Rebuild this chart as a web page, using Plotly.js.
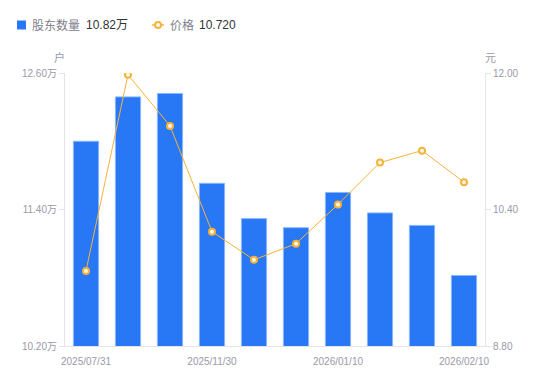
<!DOCTYPE html>
<html>
<head>
<meta charset="utf-8">
<script src="https://cdn.plot.ly/plotly-3.0.1.min.js"></script>
<style>html,body{margin:0;padding:0;background:#fff}#chart{width:550px;height:381px}</style>
</head>
<body>
<div id="chart"></div>
<script>
const dates = ['2025/07/31','2025/09/30','2025/10/31','2025/11/30','2025/12/10','2025/12/31','2026/01/10','2026/01/20','2026/01/31','2026/02/10'];
const holders = [12.00, 12.39, 12.42, 11.63, 11.32, 11.24, 11.55, 11.37, 11.26, 10.82]; // 万户
const price = [9.68, 11.98, 11.38, 10.14, 9.81, 10.00, 10.46, 10.95, 11.09, 10.72]; // 元
const shownTicks = ['2025/07/31','2025/11/30','2026/01/10','2026/02/10'];
const leftTicks = [10.20, 11.40, 12.60];
const rightTicks = [8.80, 10.40, 12.00];

const W = 550, H = 381, M = {l: 65, r: 65, t: 73, b: 35};
const PW = W - M.l - M.r, PH = H - M.t - M.b;
const px = v => (v - M.l) / PW;      // pixel x -> paper
const py = v => (H - M.b - v) / PH;  // pixel y -> paper

const gray = '#9a9aa8';
const nameGray = '#80808e';
const blue = '#2878F5';
const orange = '#F7B23B';
const lastH = holders[holders.length-1].toFixed(2) + '万';
const lastP = price[price.length-1].toFixed(3);
const FONT = 'Liberation Sans, Arial, Noto Sans CJK SC, sans-serif';

const traces = [
  {
    type: 'bar', x: dates, y: holders, name: '股东数量',
    marker: {color: blue, line: {color: '#8ab6fb', width: 1}},
    width: 0.6
  },
  {
    type: 'scatter', mode: 'lines+markers', x: dates, y: price, yaxis: 'y2', name: '价格',
    line: {color: orange, width: 1},
    marker: {size: 6, color: '#fff8e8', line: {color: orange, width: 2}}
  }
];

const legendY = py(25);
const layout = {
  width: W, height: H,
  margin: Object.assign({autoexpand: false}, M),
  paper_bgcolor: '#fff', plot_bgcolor: '#fff',
  font: {family: FONT, size: 10, color: gray},
  showlegend: false,
  xaxis: {
    type: 'category', range: [-0.5, dates.length - 0.5], tickmode: 'array', tickvals: shownTicks, ticktext: shownTicks,
    showgrid: false, showline: true, linecolor: '#e3e3e8', linewidth: 1,
    ticks: '', ticklabelstandoff: 6, tickfont: {size: 10, color: gray}, automargin: false
  },
  yaxis: {
    range: [leftTicks[0], leftTicks[leftTicks.length-1]], tickmode: 'array', tickvals: leftTicks,
    ticktext: leftTicks.map(v => v.toFixed(2) + '万'),
    showgrid: false, zeroline: false, showline: true, linecolor: '#e3e3e8',
    ticks: 'outside', ticklen: 5, tickcolor: '#e3e3e8', tickfont: {size: 10, color: gray}, automargin: false
  },
  yaxis2: {
    overlaying: 'y', side: 'right', range: [rightTicks[0], rightTicks[rightTicks.length-1]], tickmode: 'array', tickvals: rightTicks,
    ticktext: rightTicks.map(v => v.toFixed(2)),
    showgrid: false, zeroline: false, showline: true, linecolor: '#e3e3e8',
    ticks: 'outside', ticklen: 5, tickcolor: '#e3e3e8', tickfont: {size: 10, color: gray}, automargin: false
  },
  shapes: [
    // legend: bar swatch
    {type: 'rect', xref: 'paper', yref: 'paper', x0: px(17), x1: px(26), y0: py(29.5), y1: py(20.5),
     fillcolor: blue, line: {width: 0}},
    // legend: line swatch
    {type: 'line', xref: 'paper', yref: 'paper', x0: px(152), x1: px(164), y0: legendY, y1: legendY,
     line: {color: orange, width: 1.5}},
    {type: 'circle', xref: 'paper', yref: 'paper', x0: px(155), x1: px(161), y0: py(28), y1: py(22),
     fillcolor: '#ffffff', line: {color: orange, width: 2}}
  ],
  annotations: [
    {text: '户', xref: 'paper', yref: 'paper', x: px(59), y: py(57), xanchor: 'center', yanchor: 'middle', showarrow: false, font: {size: 11, color: gray, family: 'Noto Sans CJK SC'}},
    {text: '元', xref: 'paper', yref: 'paper', x: px(490), y: py(57), xanchor: 'center', yanchor: 'middle', showarrow: false, font: {size: 11, color: gray, family: 'Noto Sans CJK SC'}},
    {text: traces[0].name, xref: 'paper', yref: 'paper', x: px(30), y: legendY, xanchor: 'left', yanchor: 'middle', showarrow: false, font: {size: 12, color: nameGray, family: 'Noto Sans CJK SC'}},
    {text: lastH, xref: 'paper', yref: 'paper', x: px(84), y: legendY, xanchor: 'left', yanchor: 'middle', showarrow: false, font: {size: 12, color: '#333', family: FONT}},
    {text: traces[1].name, xref: 'paper', yref: 'paper', x: px(168), y: legendY, xanchor: 'left', yanchor: 'middle', showarrow: false, font: {size: 12, color: nameGray, family: 'Noto Sans CJK SC'}},
    {text: lastP, xref: 'paper', yref: 'paper', x: px(197), y: legendY, xanchor: 'left', yanchor: 'middle', showarrow: false, font: {size: 12, color: '#333', family: FONT}}
  ]
};

Plotly.newPlot('chart', traces, layout, {displayModeBar: false, staticPlot: true});
</script>
</body>
</html>
